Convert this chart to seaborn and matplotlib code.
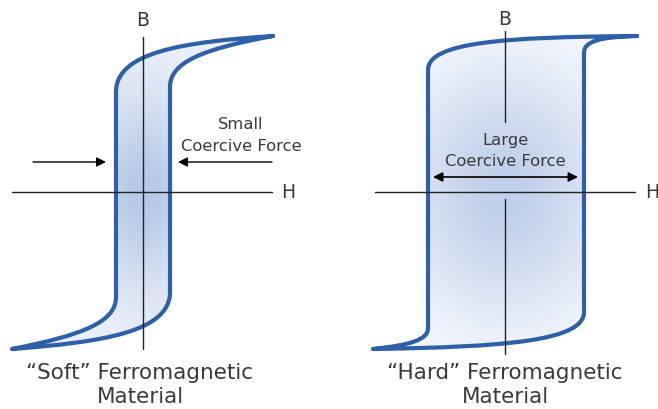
import numpy as np
import matplotlib
matplotlib.use("Agg")
import matplotlib.pyplot as plt
from matplotlib.path import Path
from matplotlib.patches import PathPatch
import seaborn as sns

sns.set_theme(style="white")
plt.rcParams['font.family'] = ['DejaVu Sans']

# ---- data (H, B units: hundreds of pixels relative to the axis origin) ----
# Soft loop: Bezier knot/control points (descending branch then ascending branch)
soft_H = [1.30, 0.40, -0.27, -0.27, -0.27, -0.27, -0.60, -1.31,
          -0.40, 0.27, 0.27, 0.27, 0.27, 0.60, 1.30]
soft_B = [1.56, 1.50, 1.40, 1.00, -1.05, -1.30, -1.43, -1.57,
          -1.50, -1.40, -1.00, 1.05, 1.30, 1.43, 1.56]
# Hard loop
hard_H = [1.32, 0.00, -0.77, -0.77, -0.77, -0.77, -0.95, -1.32,
          0.00, 0.79, 0.79, 0.79, 0.79, 0.95, 1.32]
hard_B = [1.56, 1.55, 1.50, 1.22, -1.36, -1.48, -1.53, -1.57,
          -1.55, -1.49, -1.20, 1.39, 1.51, 1.55, 1.56]
codes = [Path.MOVETO, Path.CURVE4, Path.CURVE4, Path.CURVE4,
         Path.LINETO, Path.CURVE4, Path.CURVE4, Path.CURVE4,
         Path.CURVE4, Path.CURVE4, Path.CURVE4,
         Path.LINETO, Path.CURVE4, Path.CURVE4, Path.CURVE4]

titles = ["\u201cSoft\u201d Ferromagnetic\nMaterial", "\u201cHard\u201d Ferromagnetic\nMaterial"]

LINE = "#2e5fa9"
TXT = "#3a3a3a"
AX = "#222222"

fig = plt.figure(figsize=(6.58, 4.10), dpi=100)
fig.patch.set_facecolor("white")

def make_ax(left_px, width_px, origin_px):
    ax = fig.add_axes([left_px / 658, 0, width_px / 658, 1])
    ox, oy = origin_px
    ax.set_xlim(-(ox - left_px) / 100, (left_px + width_px - ox) / 100)
    ax.set_ylim(-(410 - oy) / 100, oy / 100)
    ax.axis("off")
    return ax

def gradient(ax, patch, sx, sy, center, edge):
    x0, x1 = ax.get_xlim()
    y0, y1 = ax.get_ylim()
    xx, yy = np.meshgrid(np.linspace(x0, x1, 400), np.linspace(y0, y1, 500))
    a = np.exp(-((xx / sx) ** 2 + (yy / sy) ** 2))
    c = np.array(center) / 255.0
    e = np.array(edge) / 255.0
    img = e[None, None, :] * (1 - a[..., None]) + c[None, None, :] * a[..., None]
    im = ax.imshow(img, extent=[x0, x1, y0, y1], origin="lower", zorder=1,
                   interpolation="bilinear", aspect="auto")
    im.set_clip_path(patch)

# ---------------- Soft ----------------
ax1 = make_ax(0, 330, (143, 193))
path = Path(np.column_stack([soft_H, soft_B]), codes)
fillp = PathPatch(path, facecolor="none", edgecolor="none")
ax1.add_patch(fillp)
gradient(ax1, fillp, 0.5, 0.95, (182, 200, 230), (236, 241, 249))
ax1.add_patch(PathPatch(path, facecolor="none", edgecolor=LINE, lw=3.0,
                        joinstyle="round", capstyle="round", zorder=3))
ax1.plot([0, 0], [-1.57, 1.55], color=AX, lw=1.0, zorder=4)
ax1.plot([-1.31, 1.29], [0, 0], color=AX, lw=1.0, zorder=4)
ax1.text(0, 1.72, "B", ha="center", va="center", fontsize=13.5, color=TXT)
ax1.text(1.38, 0, "H", ha="left", va="center", fontsize=13.5, color=TXT)
ax1.annotate("", xy=(-0.37, 0.30), xytext=(-1.10, 0.30),
             arrowprops=dict(arrowstyle="-|>", color="black", lw=1.0,
                             mutation_scale=14, shrinkA=0, shrinkB=0))
ax1.annotate("", xy=(0.35, 0.30), xytext=(1.29, 0.30),
             arrowprops=dict(arrowstyle="-|>", color="black", lw=1.0,
                             mutation_scale=14, shrinkA=0, shrinkB=0))
ax1.text(0.98, 0.68, "Small", ha="center", va="center", fontsize=11.8,
         color=TXT)
ax1.text(0.98, 0.46, "Coercive Force", ha="center", va="center", fontsize=11.8,
         color=TXT)
ax1.text(-0.03, -1.92, titles[0], ha="center", va="center", fontsize=15.5,
         color=TXT, linespacing=1.2)

# ---------------- Hard ----------------
ax2 = make_ax(330, 328, (505, 193))
path2 = Path(np.column_stack([hard_H, hard_B]), codes)
fillp2 = PathPatch(path2, facecolor="none", edgecolor="none")
ax2.add_patch(fillp2)
gradient(ax2, fillp2, 1.1, 1.3, (192, 207, 234), (252, 253, 255))
ax2.add_patch(PathPatch(path2, facecolor="none", edgecolor=LINE, lw=3.0,
                        joinstyle="round", capstyle="round", zorder=3))
ax2.plot([0, 0], [0.70, 1.61], color=AX, lw=1.0, zorder=4)
ax2.plot([0, 0], [-1.62, -0.07], color=AX, lw=1.0, zorder=4)
ax2.plot([-1.30, 1.30], [0, 0], color=AX, lw=1.0, zorder=4)
ax2.text(0, 1.73, "B", ha="center", va="center", fontsize=13.5, color=TXT)
ax2.text(1.40, 0, "H", ha="left", va="center", fontsize=13.5, color=TXT, clip_on=False)
ax2.annotate("", xy=(-0.72, 0.15), xytext=(0.73, 0.15),
             arrowprops=dict(arrowstyle="<|-|>", color="black", lw=1.2,
                             mutation_scale=14, shrinkA=0, shrinkB=0))
ax2.text(0, 0.52, "Large", ha="center", va="center", fontsize=11.8,
         color=TXT)
ax2.text(0, 0.31, "Coercive Force", ha="center", va="center", fontsize=11.8,
         color=TXT)
ax2.text(0, -1.92, titles[1], ha="center", va="center", fontsize=15.5,
         color=TXT, linespacing=1.2)

fig.savefig("out.png", dpi=100, facecolor="white")
